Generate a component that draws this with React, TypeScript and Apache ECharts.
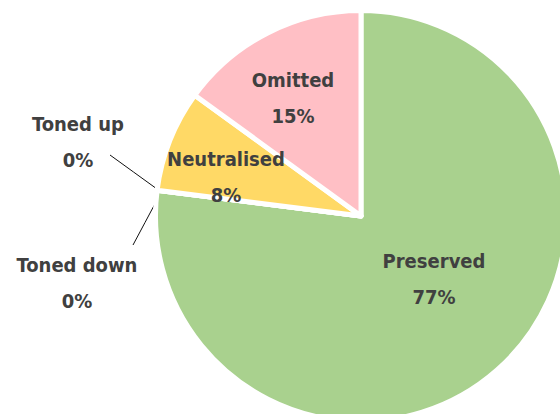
import React, { useEffect, useRef } from "react";
import * as echarts from "echarts";

const categories = ["Preserved", "Toned down", "Toned up", "Neutralised", "Omitted"];
const values = [77, 0, 0, 8, 15];
const colors = ["#a9d18e", "#a9d18e", "#ffd966", "#ffd966", "#ffbfc5"];
const labelCenters: [number, number][] = [
  [434, 279],
  [77, 283],
  [78, 142],
  [226, 177],
  [293, 98],
];
const lineEnds: ([number, number] | null)[] = [null, [133, 245], [110, 155], null, null];
const lineStarts: ([number, number] | null)[] = [null, [157, 200], [157, 189], null, null];

export default function App() {
  const ref = useRef<HTMLDivElement>(null);
  useEffect(() => {
    if (!ref.current) return;
    const chart = echarts.init(ref.current, undefined, { renderer: "svg" });
    const textStyle = {
      fontFamily: "'DejaVu Sans Condensed', 'DejaVu Sans', sans-serif",
      fontWeight: "bold" as const,
      fontSize: 20,
      lineHeight: 36,
      color: "#404040",
    };
    chart.setOption({
      animation: false,
      series: [
        {
          type: "pie",
          center: [361, 216],
          radius: 205.5,
          startAngle: 90,
          clockwise: true,
          percentPrecision: 0,
          itemStyle: { borderColor: "#ffffff", borderWidth: 5 },
          label: {
            formatter: "{b}\n{d}%",
            overflow: "none",
            ...textStyle,
          },
          labelLine: { lineStyle: { color: "#111111", width: 1 } },
          labelLayout: (p: any) => {
            const i = p.dataIndex;
            const res: any = {
              x: labelCenters[i][0],
              y: labelCenters[i][1],
              align: "center",
              verticalAlign: "middle",
            };
            const s = lineStarts[i];
            const e = lineEnds[i];
            if (s && e) {
              res.labelLinePoints = [s, [(s[0] + e[0]) / 2, (s[1] + e[1]) / 2], e];
            }
            return res;
          },
          data: categories.map((name, i) => {
            const inside = values[i] > 0;
            return {
              name,
              value: values[i],
              itemStyle: { color: colors[i] },
              label: { position: inside ? "inside" : "outside" },
              labelLine: { show: !inside },
            };
          }),
        },
      ],
    });
    return () => chart.dispose();
  }, []);
  return (
    <div
      ref={ref}
      style={{ position: "absolute", left: 0, top: 0, width: 560, height: 414, background: "#ffffff" }}
    />
  );
}
